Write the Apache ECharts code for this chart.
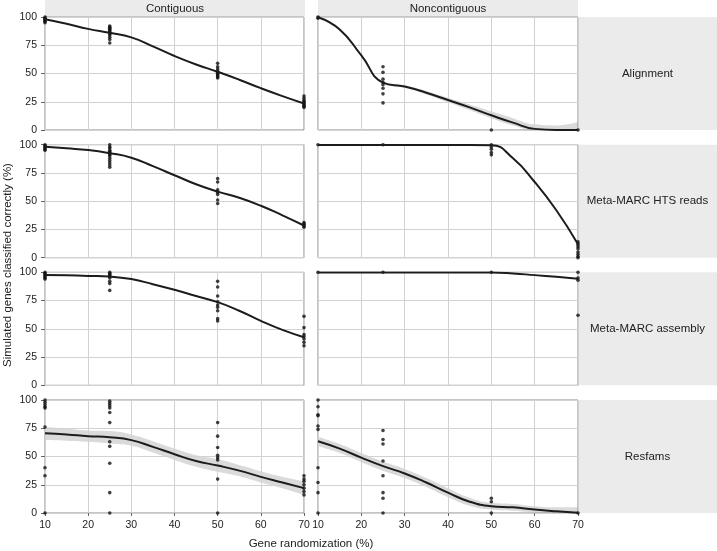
<!DOCTYPE html>
<html>
<head>
<meta charset="utf-8">
<script src="https://cdn.jsdelivr.net/npm/echarts@6/dist/echarts.min.js"></script>
<style>
html,body{margin:0;padding:0;background:#fff;}
#chart{width:717px;height:551px;}
</style>
</head>
<body>
<div id="chart"></div>
<script>
// ---------------- data ----------------
const colLabels = ['Contiguous', 'Noncontiguous'];
const rowLabels = ['Alignment', 'Meta-MARC HTS reads', 'Meta-MARC assembly', 'Resfams'];
const xTitle = 'Gene randomization (%)';
const yTitle = 'Simulated genes classified correctly (%)';
const xTicks = [10, 20, 30, 40, 50, 60, 70];
const yTicks = [0, 25, 50, 75, 100];

// x positions of the smoothed fit
const fitX = [10, 15, 20, 25, 30, 35, 40, 45, 50, 55, 60, 65, 70];

// smoothed fits
const fitContigAlign    = [98, 94, 89.5, 86, 82, 74, 65.5, 58, 51.5, 44.5, 37, 30, 23.5];
const fitNoncontigAlign = [99.8, 89, 66, 42, 38.5, 33, 26.5, 20, 13, 6.5, 1, 0, 0];
const fitContigHts      = [98.2, 96.8, 95.3, 92.5, 88.5, 81, 73, 65, 58.5, 53, 46, 37.5, 28.5];
const fitNoncontigHts   = [99.8, 99.8, 99.8, 99.8, 99.8, 99.8, 99.8, 99.8, 99.6, 88, 67, 42, 12];
const fitContigAsm      = [97.7, 97.3, 96.8, 96.2, 94, 89.5, 84.5, 79, 73.6, 66, 57, 49, 42.5];
const fitNoncontigAsm   = [99.8, 99.8, 99.8, 99.8, 99.8, 99.8, 99.8, 99.8, 99.8, 99, 97.5, 96, 94.3];
const fitContigRes      = [70.5, 69.5, 68, 67, 64.5, 58.5, 52, 46, 42, 37.5, 32, 27, 22];
const fitNoncontigRes   = [63.5, 57, 49, 41.5, 35, 27, 18, 10, 6, 5, 3, 1.5, 0.3];

// confidence bands (lower / upper), only where visible
const bandNoncontigAlignLo = [99.5, 88, 65, 41, 37.5, 31.5, 24.5, 17.5, 10.5, 4, 0, 0, 0];
const bandNoncontigAlignHi = [100, 90, 67, 43, 39.5, 34.5, 28.5, 22.5, 16.5, 10.5, 5, 4, 7];
const bandContigResLo = [64.5, 64, 63, 61.5, 59.5, 53.5, 47, 41, 36.5, 32.5, 27, 22, 16];
const bandContigResHi = [76, 74.5, 73, 72.5, 69.5, 63.5, 57, 51, 47.5, 42.5, 37, 32, 28];
const bandNoncontigResLo = [59, 53, 45, 37.5, 31, 23, 14, 6.5, 3, 2, 0.5, 0, 0];
const bandNoncontigResHi = [67.5, 61, 53, 45.5, 39, 31, 22, 13.5, 9, 8, 6, 5, 5];

// observed points [x, y]
const ptsContigAlign = [[10,100],[10,99],[10,98],[10,97],[10,96],[10,95],
  [25,92],[25,91],[25,90],[25,89],[25,88],[25,87],[25,86],[25,85],[25,84],[25,82],[25,80],[25,77],
  [50,59],[50,56],[50,54],[50,52],[50,51],[50,50],[50,49],[50,48],[50,47],[50,46],
  [70,30],[70,28],[70,26],[70,25],[70,24],[70,23],[70,22],[70,21],[70,20]];
const ptsNoncontigAlign = [[10,100],[10,99],
  [25,56],[25,51],[25,45],[25,42],[25,40],[25,37],[25,32],[25,24],
  [50,0],[70,0]];
const ptsContigHts = [[10,100],[10,99],[10,98],[10,97],[10,96],[10,95],
  [25,100],[25,98],[25,97],[25,95],[25,94],[25,93],[25,92],[25,91],[25,90],[25,88],[25,86],[25,84],[25,82],[25,80],
  [50,70],[50,67],[50,60],[50,58],[50,56],[50,51],[50,48],
  [70,31],[70,30],[70,29],[70,28],[70,27]];
const ptsNoncontigHts = [[10,100],[25,100],
  [50,100],[50,98],[50,96],[50,93],[50,91],
  [70,14],[70,12],[70,10],[70,8],[70,5],[70,3],[70,1],[70,0]];
const ptsContigAsm = [[10,100],[10,99],[10,98],[10,97],[10,96],[10,95],[10,94],
  [25,100],[25,99],[25,98],[25,97],[25,96],[25,95],[25,92],[25,90],[25,84],
  [50,92],[50,87],[50,79],[50,74],[50,71],[50,69],[50,66],[50,59],[50,57],
  [70,61],[70,51],[70,45],[70,43],[70,41],[70,38],[70,35]];
const ptsNoncontigAsm = [[10,100],[25,100],[50,100],[70,100],[70,95],[70,93],[70,62]];
const ptsContigRes = [[10,100],[10,98],[10,96],[10,94],[10,93],[10,76],[10,40],[10,33],[10,0],
  [25,99],[25,97],[25,95],[25,93],[25,89],[25,80],[25,63],[25,59],[25,44],[25,18],[25,0],
  [50,80],[50,68],[50,58],[50,51],[50,49],[50,47],[50,30],[50,0],
  [70,33],[70,30],[70,28],[70,25],[70,22],[70,19],[70,16]];
const ptsNoncontigRes = [[10,100],[10,94],[10,87],[10,86],[10,77],[10,74],[10,40],[10,27],[10,18],[10,0],
  [25,73],[25,65],[25,61],[25,46],[25,33],[25,18],[25,13],[25,0],
  [50,13],[50,10],[50,0],[70,0]];

// ---------------- assembly ----------------
const panels = [
  {fit: fitContigAlign, pts: ptsContigAlign},
  {fit: fitNoncontigAlign, pts: ptsNoncontigAlign, lo: bandNoncontigAlignLo, hi: bandNoncontigAlignHi},
  {fit: fitContigHts, pts: ptsContigHts},
  {fit: fitNoncontigHts, pts: ptsNoncontigHts},
  {fit: fitContigAsm, pts: ptsContigAsm},
  {fit: fitNoncontigAsm, pts: ptsNoncontigAsm},
  {fit: fitContigRes, pts: ptsContigRes, lo: bandContigResLo, hi: bandContigResHi},
  {fit: fitNoncontigRes, pts: ptsNoncontigRes, lo: bandNoncontigResLo, hi: bandNoncontigResHi}
];

const FONT = '"Liberation Sans", Arial, Helvetica, sans-serif';
const colLeft = [45, 318];
const colW = 260;
const rowTop = [17, 144.7, 272.3, 400];
const rowH = 113;
const stripX = 578, stripW = 139;

const grids = [], xAxes = [], yAxes = [], series = [], graphics = [];

for (let r = 0; r < 4; r++) {
  for (let c = 0; c < 2; c++) {
    const i = r * 2 + c;
    const p = panels[i];
    grids.push({left: colLeft[c], top: rowTop[r], width: colW - (c === 0 ? 1 : 0), height: rowH,
      show: true, borderColor: '#8a8a8a', borderWidth: 1, backgroundColor: 'transparent', containLabel: false});
    const bottom = r === 3;
    xAxes.push({type: 'value', gridIndex: i, min: xTicks[0], max: xTicks[xTicks.length - 1], interval: 10,
      axisLine: {show: false},
      axisTick: {show: bottom, length: 3, lineStyle: {color: '#666'}},
      axisLabel: {show: bottom, color: '#222', fontSize: 10.5, fontFamily: FONT, margin: 7},
      splitLine: {show: true, lineStyle: {color: '#d2d2d2', width: 1}}});
    yAxes.push({type: 'value', gridIndex: i, min: yTicks[0], max: yTicks[yTicks.length - 1], interval: 25,
      axisLine: {show: false},
      axisTick: {show: c === 0, length: 4, lineStyle: {color: '#666'}},
      axisLabel: {show: c === 0, color: '#222', fontSize: 10.5, fontFamily: FONT, margin: 8},
      splitLine: {show: true, lineStyle: {color: '#d2d2d2', width: 1}}});
    if (p.lo) {
      // grey area down to the upper bound, then a white area down to the lower bound,
      // both drawn beneath the grid lines
      series.push({type: 'line', xAxisIndex: i, yAxisIndex: i, smooth: true, silent: true,
        data: fitX.map((x, k) => [x, p.hi[k]]), showSymbol: false,
        lineStyle: {width: 0, opacity: 0}, areaStyle: {color: '#dadada', opacity: 1}, z: -2});
      series.push({type: 'line', xAxisIndex: i, yAxisIndex: i, smooth: true, silent: true,
        data: fitX.map((x, k) => [x, p.lo[k]]), showSymbol: false,
        lineStyle: {width: 0, opacity: 0}, areaStyle: {color: '#ffffff', opacity: 1}, z: -1});
    }
    series.push({type: 'scatter', xAxisIndex: i, yAxisIndex: i, data: p.pts, symbolSize: 3.6,
      itemStyle: {color: '#111'}, z: 3});
    series.push({type: 'line', xAxisIndex: i, yAxisIndex: i, smooth: true, showSymbol: false,
      data: fitX.map((x, k) => [x, p.fit[k]]), lineStyle: {color: '#1c1c1c', width: 2}, z: 4});
  }
  // right strip
  graphics.push({type: 'rect', shape: {x: stripX, y: rowTop[r], width: stripW, height: rowH},
    style: {fill: '#ebebeb'}, silent: true});
  graphics.push({type: 'text', x: stripX + stripW / 2, y: rowTop[r] + rowH / 2,
    style: {text: rowLabels[r], fill: '#222', font: '11.5px ' + FONT, textAlign: 'center', textVerticalAlign: 'middle'}});
}
for (let c = 0; c < 2; c++) {
  graphics.push({type: 'rect', shape: {x: colLeft[c], y: 0, width: colW, height: 16},
    style: {fill: '#ebebeb'}, silent: true});
  graphics.push({type: 'text', x: colLeft[c] + colW / 2, y: 8.5,
    style: {text: colLabels[c], fill: '#222', font: '11.5px ' + FONT, textAlign: 'center', textVerticalAlign: 'middle'}});
}
graphics.push({type: 'text', x: 311, y: 544,
  style: {text: xTitle, fill: '#222', font: '11.5px ' + FONT, textAlign: 'center', textVerticalAlign: 'middle'}});
graphics.push({type: 'text', x: 8, y: 265, rotation: Math.PI / 2,
  style: {text: yTitle, fill: '#222', font: '11.5px ' + FONT, textAlign: 'center', textVerticalAlign: 'middle'}});

const chart = echarts.init(document.getElementById('chart'), null, {renderer: 'canvas'});
chart.setOption({
  animation: false,
  backgroundColor: '#fff',
  grid: grids,
  xAxis: xAxes,
  yAxis: yAxes,
  series: series,
  graphic: graphics
});
</script>
</body>
</html>
